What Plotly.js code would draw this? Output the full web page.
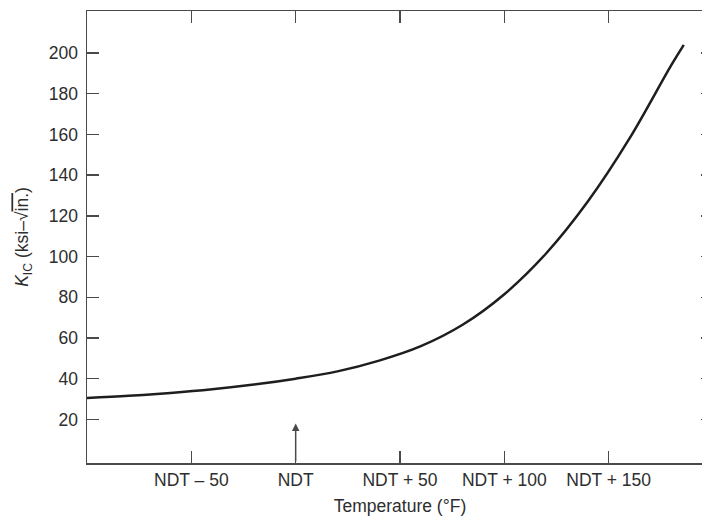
<!DOCTYPE html>
<html>
<head>
<meta charset="utf-8">
<script src="https://cdn.plot.ly/plotly-3.0.1.min.js"></script>
<style>
  html, body { margin: 0; padding: 0; background: #fff; overflow: hidden; }
  #chart { width: 720px; height: 518px; }
</style>
</head>
<body>
<div id="chart"></div>
<script>
// Fracture toughness K_IC versus temperature relative to NDT (°F)
const temperature = [-100, -80, -60, -40, -20, 0, 20, 40, 60, 80, 100, 120, 140, 160, 180, 186];
const kic = [30.5, 31.6, 33.0, 34.8, 37.1, 40.0, 43.6, 48.9, 56.0, 66.5, 81.5, 101.5, 127, 158, 194, 204];

const xTickVals = [-50, 0, 50, 100, 150];
const xTickText = ['NDT \u2013 50', 'NDT', 'NDT + 50', 'NDT + 100', 'NDT + 150'];
const yTickVals = [20, 40, 60, 80, 100, 120, 140, 160, 180, 200];

// NDT marker arrow
const ndtX = 0;
const arrowTip = 18;
const axisBottom = -1.4;

const FONT = 'Liberation Sans, Arial, Helvetica, sans-serif';
const AXIS = '#4a4a4a';
const TEXT = '#2e2e2e';

const trace = {
  x: temperature,
  y: kic,
  type: 'scatter',
  mode: 'lines',
  line: { color: '#1e1e1e', width: 2.5, shape: 'spline', smoothing: 1 },
  hoverinfo: 'skip'
};

const layout = {
  width: 720,
  height: 518,
  margin: { l: 87, r: 7, t: 11, b: 55 },
  paper_bgcolor: '#fff',
  plot_bgcolor: '#fff',
  showlegend: false,
  font: { family: FONT, size: 17.5, color: TEXT },
  xaxis: {
    range: [-100, 200],
    tickmode: 'array',
    tickvals: xTickVals,
    ticktext: xTickText,
    ticks: 'inside',
    ticklen: 12,
    tickwidth: 1.5,
    tickcolor: AXIS,
    showline: true,
    linecolor: AXIS,
    linewidth: 1.5,
    mirror: 'ticks',
    showgrid: false,
    zeroline: false,
    tickfont: { family: FONT, size: 17.5, color: TEXT },
    title: { text: 'Temperature (\u00b0F)', font: { family: FONT, size: 17.5, color: TEXT }, standoff: 11 }
  },
  yaxis: {
    range: [axisBottom, 220.6],
    tickmode: 'array',
    tickvals: yTickVals,
    ticks: 'inside',
    ticklen: 12,
    tickwidth: 1.5,
    tickcolor: AXIS,
    showline: true,
    linecolor: AXIS,
    linewidth: 1.5,
    mirror: 'ticks',
    showgrid: false,
    zeroline: false,
    ticklabelstandoff: 4,
    tickfont: { family: FONT, size: 17.5, color: TEXT },
    title: {
      text: '<i>K</i><sub>IC</sub> (ksi\u2013\u221a<span style="text-decoration:overline">in.</span>)',
      font: { family: FONT, size: 17.5, color: TEXT },
      standoff: 15
    }
  },
  annotations: [{
    x: ndtX, y: arrowTip,
    ax: ndtX, ay: axisBottom,
    xref: 'x', yref: 'y', axref: 'x', ayref: 'y',
    text: '',
    showarrow: true,
    arrowhead: 2,
    arrowsize: 1,
    arrowwidth: 1.5,
    arrowcolor: AXIS
  }]
};

Plotly.newPlot('chart', [trace], layout, { displayModeBar: false, staticPlot: true });
</script>
</body>
</html>
